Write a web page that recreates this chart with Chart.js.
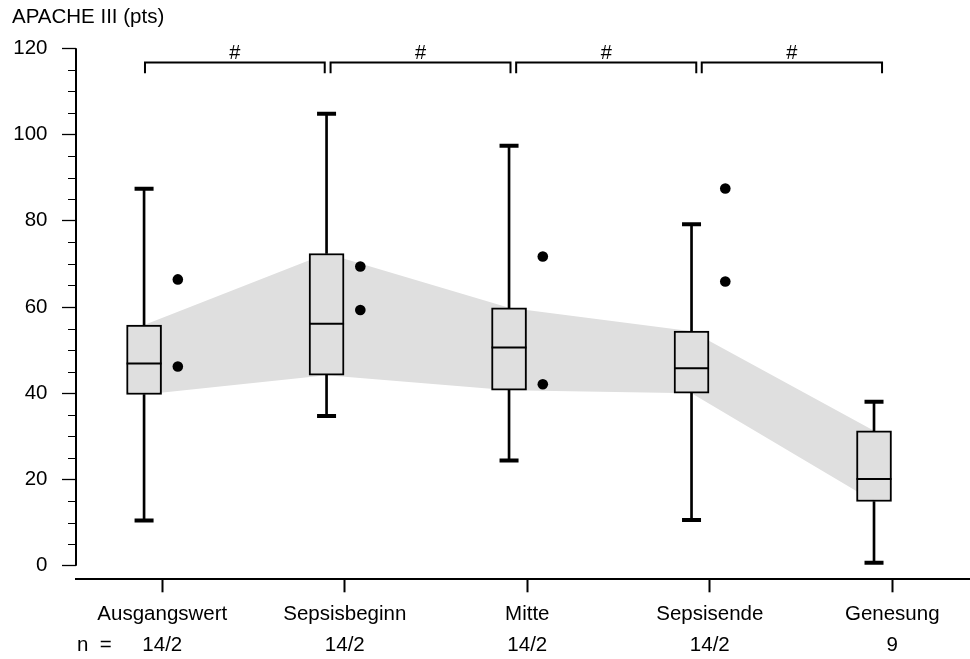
<!DOCTYPE html>
<html>
<head>
<meta charset="utf-8">
<script src="https://cdn.jsdelivr.net/npm/chart.js@4/dist/chart.umd.min.js"></script>
<style>
  html, body { margin: 0; padding: 0; background: #fff; }
  #wrap { width: 970px; height: 659px; position: relative; }
</style>
</head>
<body>
<div id="wrap"><canvas id="chart"></canvas></div>
<script>
// Daten
const kategorien = ['Ausgangswert', 'Sepsisbeginn', 'Mitte', 'Sepsisende', 'Genesung'];
const nWerte = ['14/2', '14/2', '14/2', '14/2', '9'];
const minWerte = [10.5, 34.7, 24.4, 10.6, 0.7];
const q1Werte = [39.7, 44.2, 40.7, 40.0, 14.9];
const medianWerte = [46.9, 56.1, 50.6, 45.8, 20.1];
const q3Werte = [55.8, 72.4, 59.8, 54.4, 31.3];
const maxWerte = [87.4, 104.8, 97.4, 79.2, 38.0];
const ausreisser = [[66.4, 46.2], [69.4, 59.3], [71.7, 42.1], [87.5, 65.9], []];
const signifikanz = [[0, 1], [1, 2], [2, 3], [3, 4]];
const yTicks = [0, 20, 40, 60, 80, 100, 120];

const FONT = "'Liberation Sans', Arial, sans-serif";
const BOX_SHIFT = -0.1;   // Box links vom Tick
const DOT_SHIFT = 0.085;  // Ausreißer rechts vom Tick
const GREY = '#dfdfdf';

const boxX = i => i + 1 + BOX_SHIFT;

// Band (Interquartilbereich) zwischen den Boxen
const bandOben = q3Werte.map((v, i) => ({ x: boxX(i), y: v }));
const bandUnten = q1Werte.map((v, i) => ({ x: boxX(i), y: v }));

const boxen = kategorien.map((k, i) => ({ x: boxX(i), y: [q1Werte[i], q3Werte[i]] }));
const whiskerUnten = kategorien.map((k, i) => ({ x: boxX(i), y: [minWerte[i], q1Werte[i]] }));
const whiskerOben = kategorien.map((k, i) => ({ x: boxX(i), y: [q3Werte[i], maxWerte[i]] }));
const kappen = [];
kategorien.forEach((k, i) => {
  kappen.push({ x: boxX(i), y: minWerte[i] });
  kappen.push({ x: boxX(i), y: maxWerte[i] });
});
const mediane = medianWerte.map((v, i) => ({ x: boxX(i), y: v }));
const punkte = [];
ausreisser.forEach((arr, i) => arr.forEach(v => punkte.push({ x: i + 1 + DOT_SHIFT, y: v })));

// Achsen, Nebenstriche, Signifikanzklammern, "n ="
const extras = {
  id: 'extras',
  afterDatasetsDraw(chart) {
    const ctx = chart.ctx;
    const xs = chart.scales.x, ys = chart.scales.y;
    ctx.save();
    ctx.strokeStyle = '#000';
    ctx.fillStyle = '#000';
    ctx.lineWidth = 2;
    const yLine = ys.getPixelForValue(116.7);
    const yLeg = ys.getPixelForValue(114.2);
    signifikanz.forEach(([a, b], k) => {
      const l = xs.getPixelForValue(a + 1 - 0.095 + 0.017 * k);
      const r = xs.getPixelForValue(b + 1 - 0.11 + 0.018 * k);
      ctx.beginPath();
      ctx.moveTo(l, yLeg);
      ctx.lineTo(l, yLine);
      ctx.lineTo(r, yLine);
      ctx.lineTo(r, yLeg);
      ctx.stroke();
      ctx.font = '20px ' + FONT;
      ctx.textAlign = 'center';
      ctx.textBaseline = 'middle';
      ctx.fillText('#', (l + r) / 2, ys.getPixelForValue(118.8));
    });
    ctx.restore();
  },
  afterDraw(chart) {
    const ctx = chart.ctx;
    const xs = chart.scales.x, ys = chart.scales.y;
    const xAxis = chart.chartArea.left;
    ctx.save();
    ctx.strokeStyle = '#000';
    // y-Achsenlinie nur von 0 bis 120
    ctx.lineWidth = 2;
    ctx.beginPath();
    ctx.moveTo(xAxis, ys.getPixelForValue(0));
    ctx.lineTo(xAxis, ys.getPixelForValue(120));
    ctx.stroke();
    // Nebenstriche alle 5
    ctx.lineWidth = 1;
    for (let v = 5; v < 120; v += 5) {
      if (v % 20 === 0) continue;
      const py = Math.round(ys.getPixelForValue(v)) + 0.5;
      ctx.beginPath();
      ctx.moveTo(xAxis - 8, py);
      ctx.lineTo(xAxis, py);
      ctx.stroke();
    }
    // "n =" links in der zweiten Zeile
    ctx.fillStyle = '#000';
    ctx.font = '20.5px ' + FONT;
    ctx.textAlign = 'left';
    ctx.textBaseline = 'middle';
    ctx.fillText('n  =', xAxis + 1, xs.top + 13 + 6.5 + 31.3 * 1.5);
    ctx.restore();
  }
};

new Chart(document.getElementById('chart'), {
  type: 'bar',
  data: {
    datasets: [
      { type: 'scatter', data: punkte, order: 1, pointRadius: 5.3, pointHoverRadius: 5.3,
        backgroundColor: '#000', borderColor: '#000', borderWidth: 0 },
      { type: 'scatter', data: mediane, order: 1, pointStyle: 'line', pointRadius: 17.5,
        pointHoverRadius: 17.5, borderColor: '#000', borderWidth: 2 },
      { type: 'scatter', data: kappen, order: 1, pointStyle: 'line', pointRadius: 9.5,
        pointHoverRadius: 9.5, borderColor: '#000', borderWidth: 4 },
      { type: 'bar', data: boxen, order: 3, barThickness: 35, backgroundColor: GREY,
        borderColor: '#000', borderWidth: 2, borderSkipped: false },
      { type: 'bar', data: whiskerUnten, order: 4, barThickness: 2, backgroundColor: '#000', borderWidth: 0 },
      { type: 'bar', data: whiskerOben, order: 4, barThickness: 2, backgroundColor: '#000', borderWidth: 0 },
      { type: 'line', data: bandOben, order: 10, fill: '+1', backgroundColor: GREY,
        borderWidth: 0, pointRadius: 0, tension: 0 },
      { type: 'line', data: bandUnten, order: 11, fill: false, borderWidth: 0, pointRadius: 0, tension: 0 }
    ]
  },
  options: {
    responsive: true,
    maintainAspectRatio: false,
    animation: false,
    events: [],
    layout: { autoPadding: false, padding: { left: 12, right: 0, top: 0, bottom: 0 } },
    plugins: {
      legend: { display: false },
      tooltip: { enabled: false },
      filler: { drawTime: 'beforeDatasetsDraw' },
      title: {
        display: true,
        text: 'APACHE III (pts)',
        align: 'start',
        color: '#000',
        font: { family: FONT, size: 20.5, weight: 'normal', lineHeight: 1.2 },
        padding: { top: 5.5, bottom: 18.2 }
      }
    },
    scales: {
      x: {
        type: 'linear',
        min: 0.527,
        max: 5.426,
        offset: false,
        stacked: true,
        afterBuildTicks: s => { s.ticks = kategorien.map((k, i) => ({ value: i + 1 })); },
        afterFit: s => { s.height = 79.7; },
        grid: { display: true, offset: false, drawOnChartArea: false, drawTicks: true,
                tickLength: 13, tickWidth: 2, tickColor: '#000' },
        border: { display: true, color: '#000', width: 2 },
        ticks: {
          autoSkip: false,
          maxRotation: 0,
          padding: 6.5,
          color: '#000',
          font: { family: FONT, size: 20.5, lineHeight: 1.527 },
          callback: v => [kategorien[v - 1], nWerte[v - 1]]
        }
      },
      y: {
        type: 'linear',
        min: -3.15,
        max: 120,
        stacked: false,
        afterBuildTicks: s => {
          const t = [];
          for (let v = 0; v <= 120; v += 5) t.push({ value: v });
          s.ticks = t;
        },
        afterFit: s => { s.width = 64; },
        grid: {
          display: true, drawOnChartArea: false, drawTicks: true, tickLength: 14, tickWidth: 1.3,
          tickColor: c => (c.tick && yTicks.includes(c.tick.value)) ? '#000' : 'rgba(0,0,0,0)'
        },
        border: { display: false },
        ticks: {
          padding: 14.5,
          color: '#000',
          font: { family: FONT, size: 20.5 },
          callback: v => yTicks.includes(v) ? String(v) : ''
        }
      }
    }
  },
  plugins: [extras]
});
</script>
</body>
</html>
